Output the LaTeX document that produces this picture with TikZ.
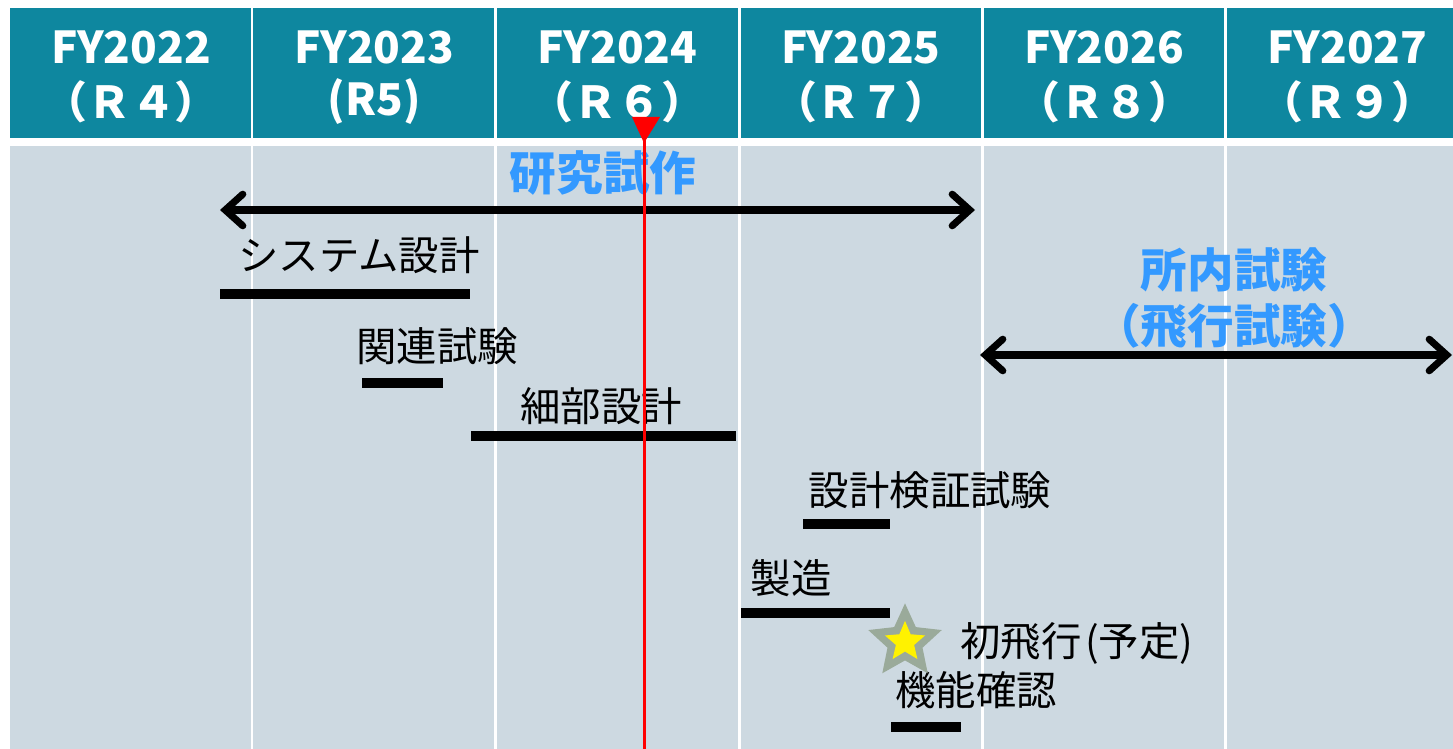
\documentclass[tikz,border=0pt]{standalone}
\usepackage{fontspec}
\setmainfont{Noto Sans CJK JP}
\usepackage{tikz}
\usetikzlibrary{arrows.meta, shapes.geometric, calc}

\definecolor{headteal}{HTML}{0E879F}
\definecolor{bodygray}{HTML}{CDD9E1}
\definecolor{labelblue}{HTML}{3399FF}
\definecolor{stargray}{HTML}{9AAA9A}

\tikzset{
    yeartext/.style={text=white, font=\fontsize{25}{30}\selectfont\bfseries, inner sep=0pt},
    tasktext/.style={text=black, font=\fontsize{23}{26}\selectfont, inner sep=0pt},
    phasetext/.style={text=labelblue, font=\fontsize{26.5}{32}\selectfont\bfseries, inner sep=0pt, align=center},
    taskbar/.style={line width=6.2pt, black},
    spanarrow/.style={line width=4pt, black, {Straight Barb[length=10pt,width=18pt,line cap=round]}-{Straight Barb[length=10pt,width=18pt,line cap=round]}, line cap=round}
}

\begin{document}
\begin{tikzpicture}[x=0.02cm,y=-0.02cm]
    \useasboundingbox (0,0) rectangle (1453,749);
    \fill[white] (0,0) rectangle (1453,749);
    \fill[headteal] (10,8) rectangle (1453,138);
    \fill[bodygray] (10,146) rectangle (1453,749);

    \foreach \xs in {252,495,739,982,1225}
        \draw[white, line width=1.7pt] (\xs,8) -- (\xs,749);

    \foreach \yr/\rw [count=\i] in {2022/（Ｒ４）, 2023/(R5), 2024/（Ｒ６）, 2025/（Ｒ７）, 2026/（Ｒ８）, 2027/（Ｒ９）}{
        \node[yeartext] (fy\i) at ({131+243.3*(\i-1)},47) {FY\yr};
        \node[yeartext] (rw\i) at ({131+243.3*(\i-1)},102) {\rw};
    }

    \node[phasetext] (kenkyu) at (603,173) {研究試作};
    \node[phasetext] (shonai) at (1234,298) {所内試験\\（飛行試験）};

    \coordinate (kenkyuL) at (220,210);
    \coordinate (kenkyuR) at (975,210);
    \coordinate (shonaiL) at (980,355);
    \coordinate (shonaiR) at (1452,355);
    \draw[spanarrow] (kenkyuL) -- (kenkyuR);
    \draw[spanarrow] (shonaiL) -- (shonaiR);

    \node[tasktext] (sysdes) at (359,255) {システム設計};
    \node[tasktext] (kanren) at (437,346) {関連試験};
    \node[tasktext] (saibu) at (601,406) {細部設計};
    \node[tasktext] (kensho) at (930,490) {設計検証試験};
    \node[tasktext] (seizo) at (791,578) {製造};
    \node[tasktext] (kinou) at (976,690) {機能確認};

    \draw[taskbar] (220,294) -- (470,294);
    \draw[taskbar] (362,383) -- (443,383);
    \draw[taskbar] (471,436) -- (736,436);
    \draw[taskbar] (803,524) -- (890,524);
    \draw[taskbar] (741,613) -- (890,613);
    \draw[taskbar] (891,727) -- (961,727);

    \node[star, star points=5, star point ratio=2.1, minimum size=44pt, inner sep=0pt, fill=stargray] (flight) at (905,642) {};
    \node[star, star points=5, star point ratio=2.2, minimum size=24pt, inner sep=0pt, fill=yellow] at (flight) {};
    \node[tasktext] (shohiko) at (1077,643) {初飛行\hspace{2pt}(予定)};

    \draw[red, line width=1.7pt] (644,130) -- (644,749);
    \fill[red] (632,117) -- (660,117) -- (644,143) -- cycle;
\end{tikzpicture}
\end{document}
